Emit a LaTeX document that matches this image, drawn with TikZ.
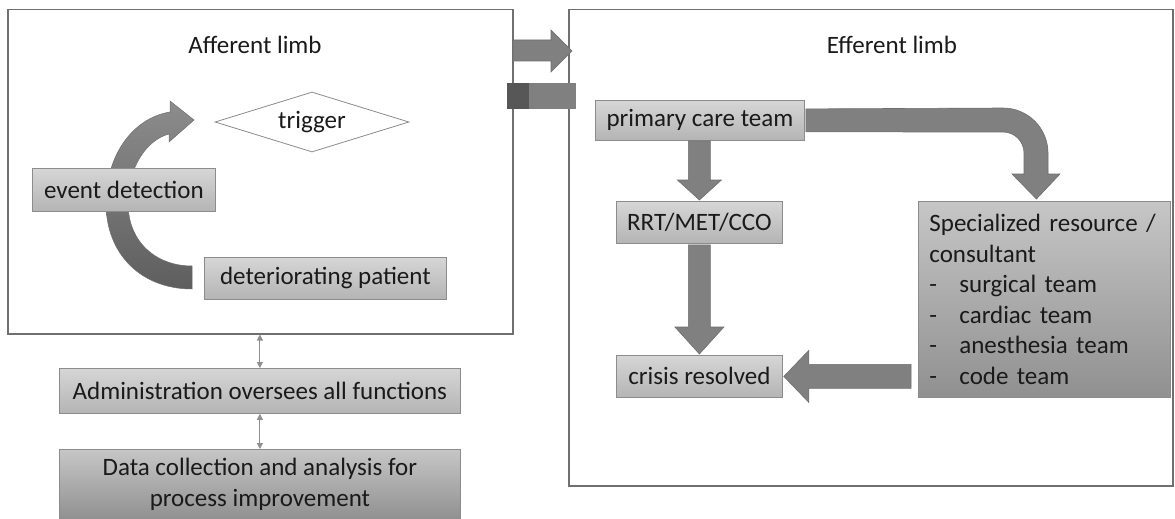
\documentclass[tikz,border=0pt]{standalone}
\usepackage{fontspec}
\setmainfont{Carlito}
\usetikzlibrary{calc,shapes.geometric,arrows.meta}
\definecolor{framec}{HTML}{707070}
\definecolor{boxborder}{HTML}{8C8C8C}
\definecolor{boxtop}{HTML}{D6D6D6}
\definecolor{boxbot}{HTML}{B4B4B4}
\definecolor{darktop}{HTML}{C6C6C6}
\definecolor{darkbot}{HTML}{909090}
\definecolor{arrowfill}{HTML}{808080}
\definecolor{arrowline}{HTML}{6E6E6E}
\definecolor{bardark}{HTML}{575757}
\definecolor{curvetop}{HTML}{8C8C8C}
\definecolor{curvebot}{HTML}{5E5E5E}
\definecolor{thinc}{HTML}{8F8F8F}
\definecolor{txt}{HTML}{1A1A1A}
\begin{document}
\begin{tikzpicture}[x=1pt,y=-1pt,
  font=\fontsize{25}{30.5}\selectfont, text=txt,
  lightbox/.style={draw=boxborder, line width=0.8pt, top color=boxtop, bottom color=boxbot, inner sep=0pt, anchor=north west},
  darkbox/.style={lightbox, top color=darktop, bottom color=darkbot},
  frameline/.style={draw=framec, line width=1.5pt, inner sep=0pt, anchor=north west},
  barrow/.style={fill=arrowfill, draw=arrowline, line width=0.6pt},
  thinarrow/.style={draw=thinc, line width=0.9pt, {Triangle[length=6pt,width=6pt]}-{Triangle[length=6pt,width=6pt]}}
]
\useasboundingbox (0,0) rectangle (1175,519);

% frames
\node[frameline, minimum width=505pt, minimum height=324pt] (aff) at (7,9) {};
\node[frameline, minimum width=604pt, minimum height=476pt] (eff) at (568,9) {};
\node (afft) at (255,45) {Afferent limb};
\node (efft) at (892,45) {Efferent limb};

% arrow between limbs and bar
\coordinate (ba) at (513,40);
\fill[arrowfill, draw=arrowline, line width=0.6pt] (ba) -- (551,40) -- (551,30) -- (572,51) -- (551,72) -- (551,61) -- (513,61) -- cycle;
\fill[arrowfill] (507,83) rectangle (576,109);
\fill[bardark] (507,83) rectangle (529,109);

% curved arrow (behind boxes)
\shade[top color=curvetop, bottom color=curvebot, draw=arrowline, line width=0.5pt]
  (192,289) .. controls (142,289) and (106,255) .. (106,203)
  .. controls (106,155) and (133,118) .. (170,112)
  -- (170,101) -- (194,120) -- (169,142) -- (169,134)
  .. controls (146,140) and (128,168) .. (128,203)
  .. controls (128,242) and (156,266) .. (192,266) -- cycle;

% left side nodes
\node[diamond, draw=boxborder, fill=white, line width=0.8pt, minimum width=194pt, minimum height=60pt, inner sep=0pt, aspect=3.2] (trig) at (312,122) {trigger};
\node[lightbox, minimum width=183pt, minimum height=43pt] (evt) at (32,168) {event detection};
\node[lightbox, minimum width=242pt, minimum height=42pt] (det) at (204,257) {deteriorating patient};
\node[lightbox, minimum width=401pt, minimum height=45pt] (adm) at (59,368) {Administration oversees all functions};
\node[darkbox, minimum width=401pt, minimum height=70pt, align=center] (dat) at (59,449) {Data collection and analysis for\\process improvement};

\draw[thinarrow] (aff.south -| adm.north) -- (adm.north);
\draw[thinarrow] (adm.south) -- (dat.north);

% right side nodes
\node[lightbox, minimum width=209pt, minimum height=40pt] (prim) at (595,100) {primary care team};
\node[lightbox, minimum width=166pt, minimum height=42pt] (rrt) at (616,201) {RRT/MET/CCO};
\node[lightbox, minimum width=166pt, minimum height=42pt] (cris) at (616,355) {crisis resolved};
\node[darkbox, minimum width=252pt, minimum height=196pt, inner xsep=11pt, text width=230pt, align=left] (spec) at (918,201)
  {Specialized resource /\\consultant\\\makebox[30pt][l]{-}surgical team\\\makebox[30pt][l]{-}cardiac team\\\makebox[30pt][l]{-}anesthesia team\\\makebox[30pt][l]{-}code team};

% primary -> RRT
\draw[barrow] ($(prim.south -| rrt.north)+(-11,0)$) -- ($(rrt.north)+(-11,-21)$) -- ($(rrt.north)+(-22,-21)$)
  -- ($(rrt.north)+(0,-1)$) -- ($(rrt.north)+(22,-21)$) -- ($(rrt.north)+(11,-21)$) -- ($(prim.south -| rrt.north)+(11,0)$) -- cycle;
% RRT -> crisis
\draw[barrow] ($(rrt.south)+(-11,1)$) -- ($(cris.north)+(-11,-28)$) -- ($(cris.north)+(-24.5,-28)$)
  -- ($(cris.north)+(0,-1)$) -- ($(cris.north)+(24.5,-28)$) -- ($(cris.north)+(11,-28)$) -- ($(rrt.south)+(11,1)$) -- cycle;
% specialized -> crisis
\draw[barrow] ($(spec.west |- cris.east)+(-7,-12)$) -- ($(cris.east)+(26,-12)$) -- ($(cris.east)+(26,-26)$)
  -- ($(cris.east)+(1,0)$) -- ($(cris.east)+(26,26)$) -- ($(cris.east)+(26,12)$) -- ($(spec.west |- cris.east)+(-7,12)$) -- cycle;
% primary -> specialized (bent)
\coordinate (bt) at ($(spec.north)+(-8,-2)$);
\draw[barrow] ($(prim.east)+(1,-11.5)$) -- (1003,108)
  .. controls (1027.85,108) and (1048,128.15) .. (1048,153)
  -- (1048,174) -- (1060,174) -- (bt) -- (1012,174) -- (1024,174) -- (1024,153)
  .. controls (1024,141.4) and (1014.6,132) .. (1003,132)
  -- ($(prim.east)+(1,11.5)$) -- cycle;
\end{tikzpicture}
\end{document}
